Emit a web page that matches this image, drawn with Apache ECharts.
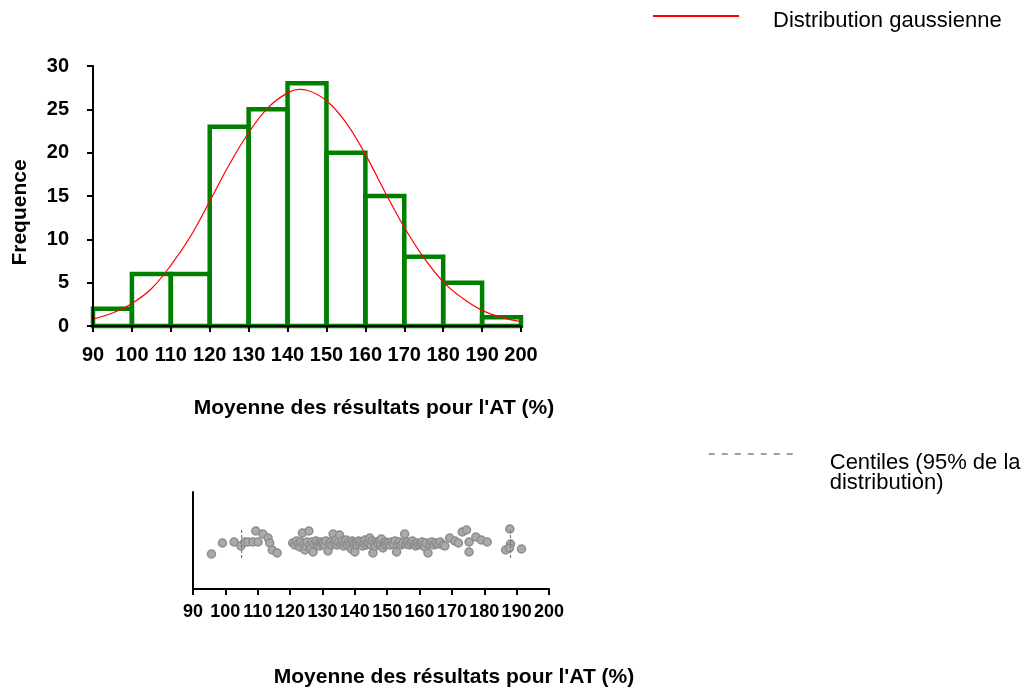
<!DOCTYPE html>
<html>
<head>
<meta charset="utf-8">
<script src="https://cdn.jsdelivr.net/npm/echarts@6/dist/echarts.min.js"></script>
<style>html,body{margin:0;padding:0;background:#fff}#c{width:1027px;height:691px}</style>
</head>
<body>
<div id="c"></div>
<script>
// ---- data ----
const binEdges = [90, 100, 110, 120, 130, 140, 150, 160, 170, 180, 190, 200];
const freq = [2, 6, 6, 23, 25, 28, 20, 15, 8, 5, 1];
const gaussX = [90, 95, 100, 105, 110, 115, 120, 125, 130, 135, 140, 143, 145, 150, 155, 160, 165, 170, 175, 180, 185, 190, 195, 200];
const gaussY = [0.8, 1.5, 2.6, 4.3, 7.0, 10.3, 14.4, 18.6, 22.3, 25.2, 26.9, 27.3, 27.2, 26.0, 23.5, 19.8, 15.5, 11.4, 7.9, 5.1, 3.2, 1.8, 1.0, 0.5];
const stripX = [
  95.7, 99.1,
  102.7, 104.8, 106.0, 107.0, 108.5, 109.4,
  110.1, 111.6, 113.2, 113.7, 114.5, 116.0,
  120.8, 121.5, 122.0, 122.6, 123.0, 123.3, 123.8, 124.2, 124.6, 125.0, 125.3, 125.8, 126.1, 126.4, 126.8, 127.1, 127.5, 128.0, 128.4, 128.8, 129.2, 129.6, 129.9,
  130.3, 130.7, 131.1, 131.7, 132.0, 132.5, 132.9, 133.3, 133.7, 134.1, 134.5, 134.9, 135.3, 135.7, 136.1, 136.5, 136.9, 137.3, 137.7, 138.1, 138.5, 138.9, 139.2, 139.5, 139.8,
  140.0, 140.4, 140.8, 141.2, 141.6, 142.0, 142.4, 142.8, 143.2, 143.6, 144.0, 144.3, 144.6, 145.0, 145.3, 145.6, 146.0, 146.4, 146.8, 147.2, 147.6, 148.0, 148.2, 148.7, 149.0, 149.3, 149.6, 149.9,
  150.4, 150.9, 151.4, 151.9, 152.4, 152.9, 153.3, 153.8, 154.3, 154.8, 155.4, 155.8, 156.3, 156.8, 157.3, 157.8, 158.3, 158.8, 159.3, 159.7,
  160.3, 160.8, 161.1, 161.6, 162.1, 162.6, 163.2, 163.8, 164.4, 165.0, 165.7, 166.4, 167.2, 167.8, 169.3,
  170.9, 172.0, 173.2, 174.5, 175.3, 175.3, 177.4, 179.1,
  180.9, 186.6, 187.9, 188.1, 187.8,
  191.5
];
const stripY = [
  35, 46,
  47, 43, 47, 47, 47, 58,
  47, 55, 51, 46, 39, 36,
  46, 44, 48, 45, 42, 47, 56, 45, 39, 43, 47, 58, 44, 40, 47, 37, 45, 48, 44, 46, 43, 47, 45,
  46, 44, 48, 38, 45, 47, 44, 55, 46, 49, 44, 47, 54, 45, 48, 43, 46, 49, 44, 47, 45, 40, 48, 44, 46,
  37, 46, 44, 48, 45, 47, 43, 46, 49, 44, 47, 45, 51, 44, 48, 36, 46, 43, 47, 45, 48, 44, 50, 41, 46, 44, 47, 45,
  46, 44, 47, 45, 48, 37, 45, 47, 44, 46, 55, 45, 47, 44, 46, 48, 45, 43, 46, 44,
  45, 47, 44, 42, 46, 36, 45, 47, 44, 46, 45, 47, 44, 43, 51,
  48, 46, 57, 59, 47, 37, 52, 49,
  47, 39, 60, 45, 41,
  40
];
const centiles = [105.0, 188.1];
const centileSpan = [31, 61];

// ---- build ----
const binData = freq.map((f, i) => [binEdges[i], binEdges[i + 1], f]);
const gaussData = gaussX.map((x, i) => [x, gaussY[i]]);
const stripData = stripX.map((x, i) => [x, stripY[i]]);
const centileData = [];
centiles.forEach((c, i) => {
  if (i > 0) centileData.push(['-', '-']);
  centileData.push([c, centileSpan[0]], [c, centileSpan[1]]);
});

const FONT = '"Liberation Sans", Arial, sans-serif';
const tickLabel = (size, margin) => ({
  show: true, color: '#000', fontFamily: FONT, fontSize: size, fontWeight: 'bold',
  margin: margin, showMinLabel: true, showMaxLabel: true, hideOverlap: false
});
const axisLine = { show: true, onZero: false, lineStyle: { color: '#000', width: 2 } };
const axisName = { color: '#000', fontFamily: FONT, fontSize: 21, fontWeight: 'bold' };
const GAUSS = 'Distribution gaussienne';
const CENT = 'Centiles (95% de la distribution)';

const chart = echarts.init(document.getElementById('c'), null, { renderer: 'canvas' });
chart.setOption({
  animation: false,
  backgroundColor: '#fff',
  grid: [
    { left: 93, top: 66, right: 506, bottom: 365, containLabel: false, outerBoundsMode: 'none' },
    { left: 193, top: 492, right: 478, bottom: 102, containLabel: false, outerBoundsMode: 'none' }
  ],
  legend: [
    {
      left: 652, top: -6, padding: 0, itemWidth: 86, itemHeight: 14,
      data: [{ name: GAUSS, itemStyle: { opacity: 0 }, lineStyle: { width: 2, color: '#ff0000' } }],
      formatter: function (n) { return '{s|}\n{t|' + n + '}'; },
      textStyle: {
        color: '#000', fontFamily: FONT, fontSize: 22, padding: [0, 0, 0, 29],
        rich: { s: { height: 10, lineHeight: 10 }, t: { fontFamily: FONT, fontSize: 22, lineHeight: 22, color: '#000' } }
      }
    },
    {
      left: 708, top: 415, padding: 0, itemWidth: 88, itemHeight: 14,
      data: [{ name: CENT, itemStyle: { opacity: 0 }, lineStyle: { type: [6, 7], width: 1.5, color: '#808080' } }],
      formatter: function (n) { return '{s|}\n{t|Centiles (95% de la}\n{t|distribution)}'; },
      textStyle: {
        color: '#000', fontFamily: FONT, fontSize: 22, padding: [0, 0, 0, 28],
        rich: { s: { height: 38, lineHeight: 38 }, t: { fontFamily: FONT, fontSize: 22, lineHeight: 20, color: '#000' } }
      }
    }
  ],
  xAxis: [
    {
      gridIndex: 0, type: 'value', min: 90, max: 200, interval: 10, z: 5,
      axisLine: axisLine,
      axisTick: { show: true, inside: false, length: 6, lineStyle: { color: '#000', width: 2 } },
      axisLabel: tickLabel(20, 19),
      splitLine: { show: false },
      name: "Moyenne des résultats pour l'AT (%)", nameLocation: 'middle', nameGap: 72,
      nameTextStyle: Object.assign({}, axisName, { padding: [0, 0, 0, 134] })
    },
    {
      gridIndex: 1, type: 'value', min: 90, max: 200, interval: 10, z: 5,
      axisLine: axisLine,
      axisTick: { show: true, inside: false, length: 6, lineStyle: { color: '#000', width: 2 } },
      axisLabel: tickLabel(18, 14),
      splitLine: { show: false },
      name: "Moyenne des résultats pour l'AT (%)", nameLocation: 'middle', nameGap: 78,
      nameTextStyle: Object.assign({}, axisName, { padding: [0, 0, 0, 166] })
    }
  ],
  yAxis: [
    {
      gridIndex: 0, type: 'value', min: 0, max: 30, interval: 5, z: 5,
      axisLine: axisLine,
      axisTick: { show: true, inside: false, length: 6, lineStyle: { color: '#000', width: 2 } },
      axisLabel: tickLabel(20, 24),
      splitLine: { show: false },
      name: 'Frequence', nameLocation: 'middle', nameGap: 62, nameRotate: 90,
      nameTextStyle: Object.assign({}, axisName, { padding: [0, 33, 0, 0] })
    },
    {
      gridIndex: 1, type: 'value', min: 0, max: 97, z: 5,
      axisLine: axisLine,
      axisTick: { show: false },
      axisLabel: { show: false },
      splitLine: { show: false }
    }
  ],
  series: [
    {
      name: 'Histogramme', type: 'custom', xAxisIndex: 0, yAxisIndex: 0, z: 2,
      data: binData,
      encode: { x: [0, 1], y: 2 },
      renderItem: function (params, api) {
        const p0 = api.coord([api.value(0), api.value(2)]);
        const p1 = api.coord([api.value(1), 0]);
        return {
          type: 'rect',
          shape: { x: p0[0], y: p0[1], width: p1[0] - p0[0], height: p1[1] - p0[1] },
          style: { fill: 'none', stroke: '#008000', lineWidth: 4.5 }
        };
      }
    },
    {
      name: GAUSS, type: 'line', xAxisIndex: 0, yAxisIndex: 0, z: 3,
      data: gaussData, smooth: 0.4, symbol: 'none', showSymbol: false,
      lineStyle: { color: '#ff0000', width: 1.2 }, itemStyle: { color: '#ff0000' }
    },
    {
      name: 'Points', type: 'scatter', xAxisIndex: 1, yAxisIndex: 1, z: 2,
      data: stripData, symbol: 'circle', symbolSize: 8,
      itemStyle: { color: '#aaaaaa', borderColor: '#8c8c8c', borderWidth: 1.5, opacity: 1 }
    },
    {
      name: CENT, type: 'line', xAxisIndex: 1, yAxisIndex: 1, z: 3,
      data: centileData, symbol: 'none', showSymbol: false, connectNulls: false,
      lineStyle: { color: '#777777', width: 1.2, type: [3, 2] }, itemStyle: { color: '#777777' }
    }
  ]
});
</script>
</body>
</html>
